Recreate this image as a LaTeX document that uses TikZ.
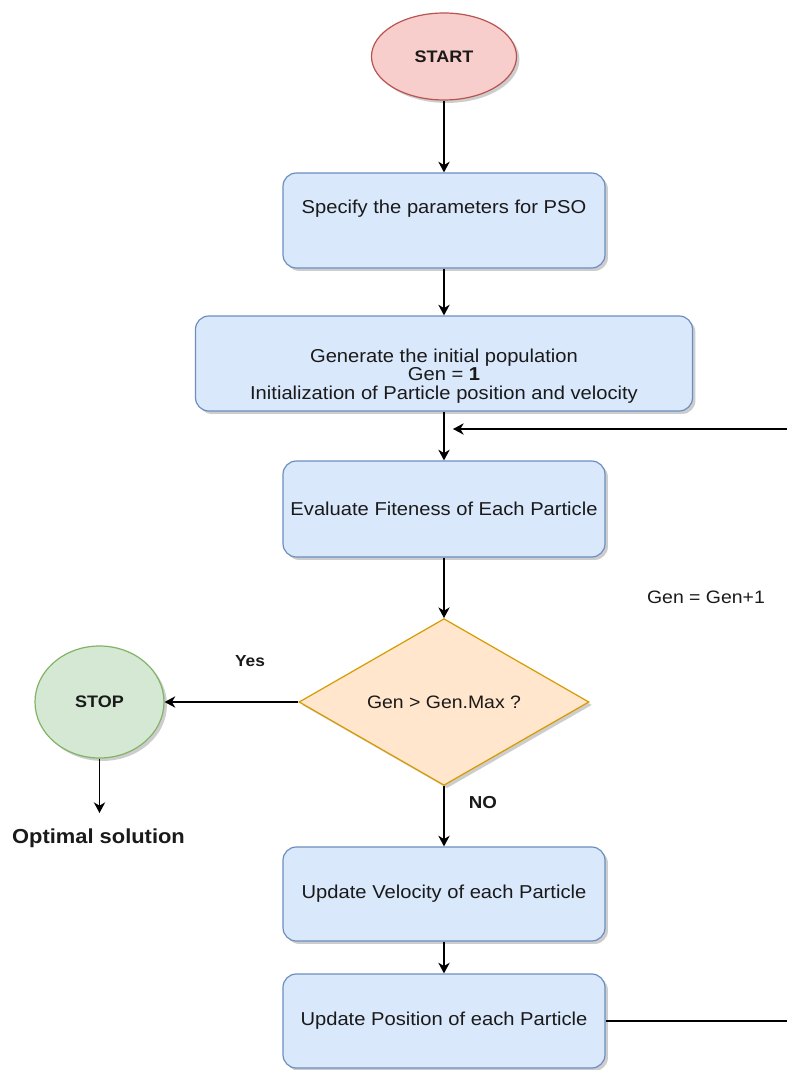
\documentclass[tikz,border=0pt]{standalone}
\usepackage{fontspec}
\setmainfont{Liberation Sans}[FakeStretch=1.08]
\usetikzlibrary{shapes.geometric,arrows.meta,shadows}

\definecolor{procfill}{HTML}{DAE8FC}
\definecolor{procline}{HTML}{6C8EBF}
\definecolor{startfill}{HTML}{F8CECC}
\definecolor{startline}{HTML}{B85450}
\definecolor{stopfill}{HTML}{D5E8D4}
\definecolor{stopline}{HTML}{82B366}
\definecolor{decfill}{HTML}{FFE6CC}
\definecolor{decline}{HTML}{D79B00}
\definecolor{inkcol}{HTML}{1A1A1A}

\begin{document}
\begin{tikzpicture}[x=0.75pt,y=-0.75pt,
  every node/.style={text=inkcol, font=\fontsize{14}{13.7}\selectfont},
  shade/.style={drop shadow={shadow xshift=2.2pt,shadow yshift=-2.2pt,opacity=0.28,fill=black!70}},
  process/.style={draw=procline, fill=procfill, rounded corners=10pt,
    minimum width=241.5pt, minimum height=71.25pt, line width=0.9pt,
    align=center, inner sep=0pt, shade},
  terminal/.style={ellipse, line width=0.9pt, inner sep=0pt, shade,
    font=\fontsize{12.5}{14}\selectfont\bfseries},
  decision/.style={diamond, draw=decline, fill=decfill, line width=0.9pt,
    minimum width=217.5pt, minimum height=118pt, inner sep=0pt, shade,
    font=\fontsize{13.5}{15}\selectfont},
  tag/.style={font=\fontsize{12.5}{14}\selectfont\bfseries},
  flow/.style={draw=black, line width=1pt,
    -{Stealth[length=8pt,width=8.5pt,inset=2.5pt]}},
]
  % canvas
  \fill[white] (0,0) rectangle (787,1070);
  \useasboundingbox (0,0) rectangle (787,1070);
  \clip (0,0) rectangle (787,1070);

  % terminals
  \node[terminal, draw=startline, fill=startfill,
        minimum width=108.75pt, minimum height=65.25pt] (start) at (444,56.5) {START};
  \node[terminal, draw=stopline, fill=stopfill,
        minimum width=96.75pt, minimum height=84pt] (stop) at (99.5,702) {STOP};

  % process boxes
  \node[process, label={[yshift=9pt]center:Specify the parameters for PSO}] (b1) at (444,220.5) {};
  \node[process, minimum width=372.75pt,
        label={[yshift=-9.5pt, align=center]center:Generate the initial population\\Gen = \textbf{1}\\Initialization of Particle position and velocity}]
        (b2) at (444,363.5) {};
  \node[process, minimum height=72pt] (b3) at (444,509) {Evaluate Fiteness of Each Particle};
  \node[process, minimum height=70.5pt] (b4) at (444,894) {Update Velocity of each Particle};
  \node[process, minimum height=70.5pt] (b5) at (444,1021) {Update Position of each Particle};

  % decision
  \node[decision] (dec) at (444,702) {Gen > Gen.Max ?};

  % free labels
  \node[font=\fontsize{13.5}{15}\selectfont] (inc) at (706,597) {Gen = Gen+1};
  \node[tag, font=\fontsize{12}{14}\selectfont\bfseries] (yes) at (250,661) {Yes};
  \node[tag, font=\fontsize{13}{14}\selectfont\bfseries] (no) at (483,803) {NO};
  \node[font=\fontsize{15.2}{17}\selectfont\bfseries] (opt) at (98.5,838) {Optimal solution};

  % loose ends
  \coordinate (optend) at (99.5,813);
  \coordinate (loopin) at (453,429);
  \coordinate (loopx) at (810,0);

  % connectors
  \draw[flow] (start) -- (b1);
  \draw[flow] (b1) -- (b2);
  \draw[flow] (b2) -- (b3);
  \draw[flow] (b3) -- (dec);
  \draw[flow] (dec) -- (stop);
  \draw[flow] (dec) -- (b4);
  \draw[flow] (b4) -- (b5);
  \draw[flow] (stop.south) -- (optend);
  \draw[flow] (b5.east) -- (b5.east -| loopx) |- (loopin);
\end{tikzpicture}
\end{document}
